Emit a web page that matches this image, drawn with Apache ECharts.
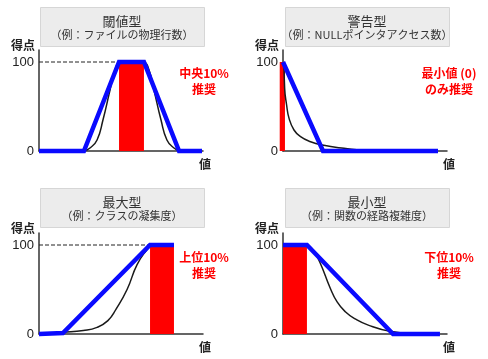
<!DOCTYPE html>
<html>
<head>
<meta charset="utf-8">
<script src="https://cdn.jsdelivr.net/npm/echarts@6/dist/echarts.min.js"></script>
<style>
html,body{margin:0;padding:0;background:#fff;}
#chart{width:488px;height:359px;}
</style>
</head>
<body>
<div id="chart"></div>
<script>
// ---- data ----
const titles = ['閾値型', '警告型', '最大型', '最小型'];
const subtitles = ['（例：ファイルの物理行数）', '（例：NULLポインタアクセス数）', '（例：クラスの凝集度）', '（例：関数の経路複雑度）'];
const notes = ['中央10%\n推奨', '最小値 (0)\nのみ推奨', '上位10%\n推奨', '下位10%\n推奨'];
const yAxisName = '得点';
const xAxisName = '値';
const yTickLabels = [0, 100];

// panel 1: threshold type
const thresholdBlue = [[0, 0], [27.4, 0], [48.8, 100], [64, 100], [85.4, 0], [99.4, 0]];
const thresholdBlack = [[27.4, 0], [31.1, 3.4], [35.4, 12.4], [39.0, 34.8], [43.3, 68.5], [46.3, 91], [49.4, 100], [56.7, 101.5], [64, 100], [67.1, 91], [70.1, 68.5], [74.4, 34.8], [78, 12.4], [82.3, 3.4], [86, 0]];
const thresholdBar = [[48.8, 64, 100]];
const thresholdGuide = [[0, 100], [48.8, 100]];

// panel 2: warning type
const warningBlue = [[0, 100], [24.4, 0], [94.5, 0]];
const warningBlack = [[0.6, 100], [1.0, 70.4], [2.2, 51.7], [3.7, 36.7], [6.7, 23.6], [10.7, 16.1], [16.8, 10.4], [24, 6.7], [37.2, 3], [51.4, 0.3], [60, 0]];
const warningBar = [[-2, 1.2, 100]];

// panel 3: maximum type
const maxBlue = [[0, 0], [14.6, 1], [67.7, 100], [82.3, 100]];
const maxBlack = [[0, 0], [14.6, 2], [27, 4], [35.4, 7.5], [42, 15], [47, 28], [53.7, 50], [59.8, 78], [65.9, 95], [68.5, 99.5], [82.3, 100]];
const maxBar = [[67.7, 82.3, 100]];
const maxGuide = [[0, 100], [67.7, 100]];

// panel 4: minimum type
const minBlue = [[0, 100], [14.6, 100], [67.1, 0], [95.7, 0]];
const minBlack = [[14.6, 100], [18.5, 94], [22.6, 80], [28.7, 52], [33, 36], [38, 25], [44, 17], [52, 10], [65.2, 3], [81.7, 0]];
const minBar = [[0, 14.6, 100]];

// ---- layout ----
const panels = [
  {left: 39, top: 50, bx: 40, by: 7, tx: 204, ty: 81},
  {left: 283, top: 50, bx: 285, by: 7, tx: 449, ty: 81},
  {left: 39, top: 233, bx: 40, by: 188, tx: 204, ty: 265},
  {left: 283, top: 233, bx: 285, by: 188, tx: 449, ty: 265}
];
const PLOT_W = 164, PLOT_H = 101, Y_MAX = 113.5;

const chart = echarts.init(document.getElementById('chart'), null, {renderer: 'canvas'});

const grids = [], xAxes = [], yAxes = [], series = [], graphics = [];
const axisColor = '#333';
const baseFont = '"Liberation Sans", Arial, "Noto Sans CJK JP", sans-serif';
const cjkFont = '"Noto Sans CJK JP", "Liberation Sans", sans-serif';

panels.forEach((p, i) => {
  grids.push({left: p.left, top: p.top, width: PLOT_W, height: PLOT_H, containLabel: false});
  xAxes.push({
    type: 'value', gridIndex: i, min: 0, max: 100,
    axisLine: {show: true, onZero: false, lineStyle: {color: axisColor, width: 1.5}},
    axisTick: {show: false}, axisLabel: {show: false}, splitLine: {show: false},
    name: xAxisName, nameLocation: 'end', nameGap: 0,
    nameTextStyle: {color: '#222', fontSize: 12, fontWeight: 'bold', fontFamily: cjkFont,
      align: 'center', verticalAlign: 'top', padding: [7, 0, 0, 4]}
  });
  yAxes.push({
    type: 'value', gridIndex: i, min: 0, max: Y_MAX, interval: 100,
    axisLine: {show: true, lineStyle: {color: axisColor, width: 1.5}},
    axisTick: {show: false}, splitLine: {show: false},
    axisLabel: {show: true, margin: 5, color: '#222', fontSize: 13, fontFamily: baseFont,
      formatter: v => (yTickLabels.indexOf(v) >= 0 ? String(v) : '')},
    name: yAxisName, nameLocation: 'end', nameGap: -1,
    nameTextStyle: {color: '#222', fontSize: 12, fontWeight: 'bold', fontFamily: cjkFont,
      align: 'right', verticalAlign: 'bottom', padding: [0, 4, 0, 0]}
  });
  // title boxes
  graphics.push({
    type: 'rect', left: p.bx, top: p.by, z: 10,
    shape: {width: 164, height: 39},
    style: {fill: '#ececec', stroke: '#d6d6d6', lineWidth: 1}
  });
  graphics.push({
    type: 'text', x: p.bx + 82, y: p.by + 14, z: 11,
    style: {text: titles[i], fill: '#333', font: '13px ' + cjkFont, textAlign: 'center', textVerticalAlign: 'middle'}
  });
  graphics.push({
    type: 'text', x: p.bx + 82, y: p.by + 28, z: 11,
    style: {text: subtitles[i], fill: '#333', font: '11px ' + cjkFont, textAlign: 'center', textVerticalAlign: 'middle'}
  });
  graphics.push({
    type: 'text', x: p.tx, y: p.ty, z: 11,
    style: {text: notes[i], fill: '#ff0000', font: 'bold 12px ' + cjkFont, textAlign: 'center', textVerticalAlign: 'middle', lineHeight: 16}
  });
});

function barSeries(idx, data) {
  return {
    type: 'custom', xAxisIndex: idx, yAxisIndex: idx, clip: false, z: 1,
    data: data,
    renderItem: function (params, api) {
      const p0 = api.coord([api.value(0), api.value(2)]);
      const p1 = api.coord([api.value(1), 0]);
      return {type: 'rect', shape: {x: p0[0], y: p0[1], width: p1[0] - p0[0], height: p1[1] - p0[1]},
        style: {fill: '#ff0000'}};
    }
  };
}
function guideSeries(idx, data) {
  return {type: 'line', xAxisIndex: idx, yAxisIndex: idx, data: data, showSymbol: false, silent: true, z: 0,
    lineStyle: {color: '#222', width: 1, type: [4, 2]}};
}
function blackSeries(idx, data) {
  return {type: 'line', xAxisIndex: idx, yAxisIndex: idx, data: data, showSymbol: false, smooth: 0.5,
    z: 3, lineStyle: {color: '#1a1a1a', width: 1.5}};
}
function blueSeries(idx, data) {
  return {type: 'line', xAxisIndex: idx, yAxisIndex: idx, data: data, showSymbol: false, z: 4, clip: false,
    lineStyle: {color: '#0a0aff', width: 4.5, join: 'miter'}};
}

series.push(guideSeries(0, thresholdGuide), barSeries(0, thresholdBar), blackSeries(0, thresholdBlack), blueSeries(0, thresholdBlue));
series.push(barSeries(1, warningBar), blackSeries(1, warningBlack), blueSeries(1, warningBlue));
series.push(guideSeries(2, maxGuide), barSeries(2, maxBar), blackSeries(2, maxBlack), blueSeries(2, maxBlue));
series.push(barSeries(3, minBar), blackSeries(3, minBlack), blueSeries(3, minBlue));

chart.setOption({
  animation: false,
  backgroundColor: '#fff',
  grid: grids, xAxis: xAxes, yAxis: yAxes,
  series: series,
  graphic: graphics
});
</script>
</body>
</html>
